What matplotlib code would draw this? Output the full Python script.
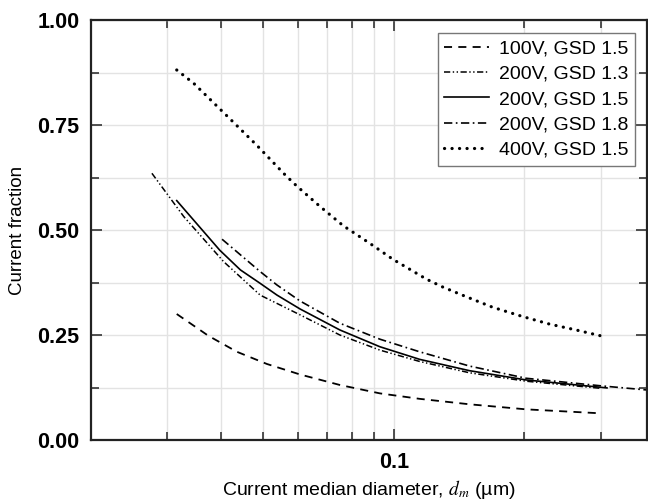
import matplotlib
matplotlib.use('Agg')
from matplotlib import pyplot as plt
from matplotlib.ticker import FixedLocator, NullFormatter, FixedFormatter

plt.rcParams['font.family'] = ['Liberation Sans', 'DejaVu Sans']
plt.rcParams['mathtext.fontset'] = 'stix'
plt.rcParams['lines.scale_dashes'] = False

# данные
x_100_15 = [0.0316, 0.0374, 0.0435, 0.0510, 0.0608, 0.0751, 0.0929, 0.1147, 0.1495, 0.2018, 0.300]
y_100_15 = [0.300, 0.248, 0.210, 0.181, 0.156, 0.131, 0.111, 0.098, 0.085, 0.073, 0.0635]

x_200_13 = [0.0277, 0.0328, 0.0405, 0.0492, 0.0608, 0.0751, 0.0929, 0.1147, 0.1495, 0.2018, 0.300]
y_200_13 = [0.635, 0.532, 0.425, 0.345, 0.298, 0.250, 0.214, 0.187, 0.160, 0.140, 0.123]

x_200_15 = [0.0316, 0.0397, 0.0443, 0.0492, 0.0538, 0.0608, 0.0751, 0.0929, 0.1147, 0.1495, 0.2018, 0.310]
y_200_15 = [0.570, 0.452, 0.405, 0.373, 0.345, 0.312, 0.262, 0.222, 0.192, 0.165, 0.143, 0.124]

x_200_18 = [0.0402, 0.0492, 0.0538, 0.0608, 0.0751, 0.0929, 0.1147, 0.1495, 0.2018, 0.300, 0.384]
y_200_18 = [0.478, 0.401, 0.369, 0.331, 0.278, 0.240, 0.210, 0.176, 0.147, 0.129, 0.119]

x_400_15 = [0.0316, 0.0346, 0.0416, 0.0483, 0.0562, 0.0597, 0.0676, 0.0765, 0.0881,
            0.0996, 0.1189, 0.1298, 0.147, 0.169, 0.198, 0.2284, 0.263, 0.300]
y_400_15 = [0.881, 0.849, 0.768, 0.702, 0.631, 0.605, 0.556, 0.510, 0.468,
            0.430, 0.383, 0.364, 0.341, 0.316, 0.294, 0.276, 0.262, 0.248]

labels = ['100V, GSD 1.5', '200V, GSD 1.3', '200V, GSD 1.5', '200V, GSD 1.8', '400V, GSD 1.5']

fig = plt.figure(figsize=(6.48, 5.0), dpi=100)
ax = fig.add_axes([0.1397, 0.12, 0.999 - 0.1397, 0.84])

ax.plot(x_100_15, y_100_15, color='black', lw=1.3, dashes=(5.8, 4.5), label=labels[0])
ax.plot(x_200_13, y_200_13, color='black', lw=1.1, dashes=(4.5, 1.8, 1.0, 1.8, 1.0, 1.8), label=labels[1])
ax.plot(x_200_15, y_200_15, color='black', lw=1.2, label=labels[2])
ax.plot(x_200_18, y_200_18, color='black', lw=1.2, dashes=(6, 2.5, 1.2, 2.5), label=labels[3])
ax.plot(x_400_15, y_400_15, color='black', lw=2.3, dashes=(0.1, 5.3),
        dash_capstyle='round', label=labels[4])

ax.set_xscale('log')
ax.set_xlim(0.02, 0.384)
ax.set_ylim(0, 1)

# оси и сетка
ax.xaxis.set_major_locator(FixedLocator([0.1]))
ax.xaxis.set_major_formatter(FixedFormatter(['0.1']))
ax.xaxis.set_minor_locator(FixedLocator([0.03, 0.04, 0.05, 0.06, 0.07, 0.08, 0.09, 0.2, 0.3]))
ax.xaxis.set_minor_formatter(NullFormatter())
ax.set_yticks([0, 0.25, 0.5, 0.75, 1.0])
ax.set_yticklabels(['0.00', '0.25', '0.50', '0.75', '1.00'])
ax.set_yticks([0.125, 0.375, 0.625, 0.875], minor=True)

ax.tick_params(which='both', direction='in', top=True, right=True, color='#333333', width=1.2)
ax.tick_params(which='major', length=8)
ax.tick_params(which='minor', length=6)
ax.tick_params(axis='y', which='major', pad=8, labelsize=15.5)
ax.tick_params(axis='x', which='major', pad=9, labelsize=15.5)
for t in ax.get_xticklabels() + ax.get_yticklabels():
    t.set_fontweight('bold')

ax.grid(True, which='both', color='#e3e3e3', lw=1.0)
ax.set_axisbelow(True)
for s in ax.spines.values():
    s.set_linewidth(1.6)
    s.set_color('#222222')

ax.set_xlabel('Current median diameter, $d_m$ (µm)', fontsize=14, labelpad=3)
ax.set_ylabel('Current fraction', fontsize=13.5, labelpad=8)

leg = ax.legend(loc='upper right', bbox_to_anchor=(0.978, 0.969), borderaxespad=0,
                fontsize=14, handlelength=2.3, handletextpad=0.5, labelspacing=0.4,
                borderpad=0.35, fancybox=False, framealpha=1, edgecolor='#777777')
leg.get_frame().set_linewidth(1.0)

plt.savefig('out.png', dpi=100)
